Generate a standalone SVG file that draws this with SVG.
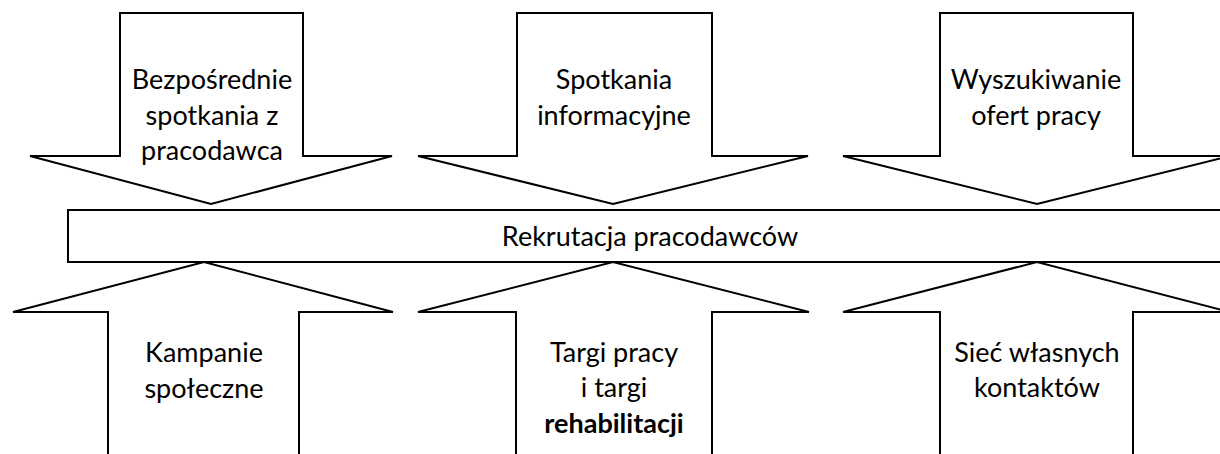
<svg xmlns="http://www.w3.org/2000/svg" width="1220" height="454" viewBox="0 0 1220 454">
<style>
.s{fill:#fff;stroke:#000;stroke-width:2;stroke-linejoin:miter}
.t{font-family:Lato,"Liberation Sans",sans-serif;font-size:27px;fill:#000;text-anchor:middle}
.b{font-weight:bold}
</style>
<rect width="1220" height="454" fill="#fff"/>
<g id="arrow-bezposrednie">
<path class="s" d="M120 13 H303 V156 H392 L211 204 L30 156 H120 Z"/>
<text class="t" x="212" y="89">Bezpośrednie</text>
<text class="t" x="212" y="125">spotkania z</text>
<text class="t" x="212" y="160">pracodawca</text>
</g>
<g id="arrow-spotkania">
<path class="s" d="M517 13 H712 V156 H808 L613 204 L418 156 H517 Z"/>
<text class="t" x="614" y="89">Spotkania</text>
<text class="t" x="614" y="125">informacyjne</text>
</g>
<g id="arrow-wyszukiwanie">
<path class="s" d="M940 13 H1133 V156 H1230 L1037 204 L843 156 H940 Z"/>
<text class="t" x="1036" y="89">Wyszukiwanie</text>
<text class="t" x="1036" y="125">ofert pracy</text>
</g>
<g id="rekrutacja">
<rect class="s" x="68" y="210" width="1170" height="52"/>
<text class="t" x="650" y="246">Rekrutacja pracodawców</text>
</g>
<g id="arrow-kampanie">
<path class="s" d="M108 460 V312 H13 L204 262 L393 312 H299 V460"/>
<text class="t" x="204" y="362">Kampanie</text>
<text class="t" x="204" y="398">społeczne</text>
</g>
<g id="arrow-targi">
<path class="s" d="M516 460 V312 H418 L613 262 L809 312 H712 V460"/>
<text class="t" x="614" y="362">Targi pracy</text>
<text class="t" x="614" y="397">i targi</text>
<text class="t b" x="614" y="433">rehabilitacji</text>
</g>
<g id="arrow-siec">
<path class="s" d="M940 460 V312 H843 L1037 262 L1230 312 H1133 V460"/>
<text class="t" x="1037" y="362">Sieć własnych</text>
<text class="t" x="1037" y="397">kontaktów</text>
</g>
<g id="connectors"/>
</svg>
